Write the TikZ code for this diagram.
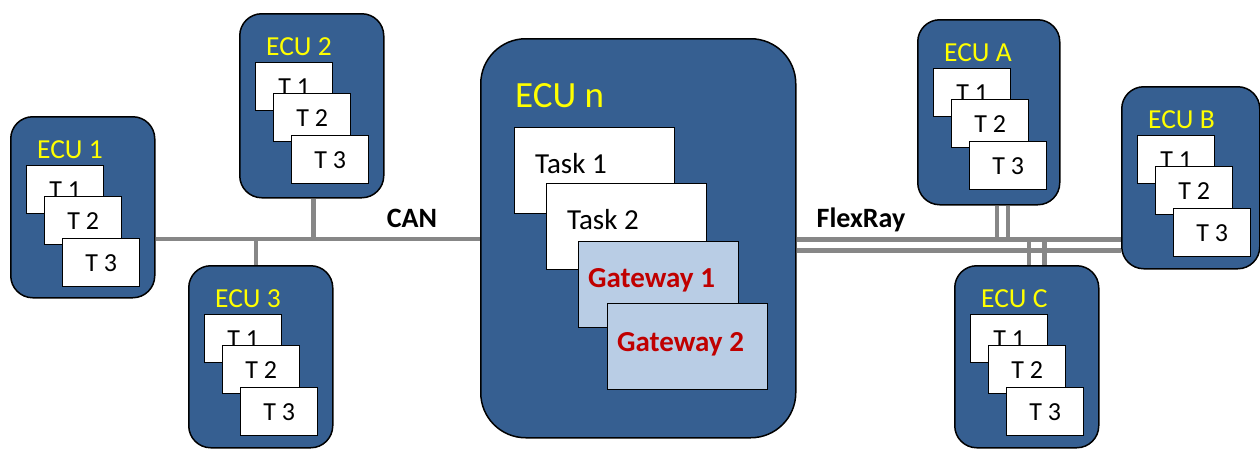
\documentclass[tikz,border=0pt]{standalone}
\usepackage{fontspec}
\setmainfont{Carlito}
\usetikzlibrary{calc}

\definecolor{ecublue}{RGB}{54,95,145}
\definecolor{gwblue}{RGB}{185,205,229}
\definecolor{gwred}{RGB}{192,0,0}
\definecolor{busgray}{RGB}{135,135,135}
\definecolor{lblyellow}{RGB}{255,255,0}

\tikzset{
  ecu/.style={draw=black, line width=1.5pt, fill=ecublue, rounded corners=22pt,
              minimum width=144pt, inner sep=0pt, anchor=north west},
  bigecu/.style={draw=black, line width=1.5pt, fill=ecublue, rounded corners=45pt,
              minimum width=315pt, minimum height=399pt, inner sep=0pt, anchor=north west},
  eculabel/.style={text=lblyellow, font=\fontsize{27.5}{32}\selectfont, inner sep=0pt, anchor=base west},
  tbox/.style={draw=black, line width=1.3pt, fill=white, minimum width=77pt,
               minimum height=48pt, inner sep=0pt, anchor=north west,
               font=\fontsize{26}{30}\selectfont},
  taskbox/.style={draw=black, line width=1.3pt, fill=white, minimum width=160pt,
               minimum height=86pt, inner sep=0pt, anchor=north west},
  gwbox/.style={taskbox, fill=gwblue},
  tasktext/.style={font=\fontsize{29}{33}\selectfont, inner sep=0pt, anchor=base west},
  gwtext/.style={font=\fontsize{29}{33}\selectfont\bfseries, text=gwred, inner sep=0pt, anchor=base west},
  buslabel/.style={font=\fontsize{28}{32}\selectfont\bfseries, inner sep=0pt, anchor=base},
  bus/.style={draw=busgray, line width=4.3pt},
}

% small ECU with three stacked tasks: #1 name, #2 x, #3 y, #4 label, #5 height, #6 width
\newcommand\smallecu[6]{%
  \node[ecu, minimum height=#5, minimum width=#6] (#1) at (#2,#3) {};
  \node[eculabel] (#1-lbl) at ($(#1.north west)+(27,42)$) {#4};
  \node[tbox] (#1-t1) at ($(#1.north west)+(16,49)$) {T 1};
  \node[tbox] (#1-t2) at ($(#1.north west)+(34,80)$) {T 2};
  \node[tbox] (#1-t3) at ($(#1.north west)+(52,122)$) {T 3};
}

\begin{document}
\begin{tikzpicture}[x=1pt, y=-1pt]
\useasboundingbox (0,0) rectangle (1260,448);

% ECUs on the CAN side
\smallecu{e1}{10}{116}{ECU 1}{181pt}{144pt}
\smallecu{e2}{239}{13}{ECU 2}{184pt}{144pt}
\smallecu{e3}{188}{265}{ECU 3}{182pt}{144pt}

% gateway ECU
\node[bigecu] (en) at (480,38) {};
\node[eculabel, font=\fontsize{37}{42}\selectfont] (en-lbl) at ($(en.north west)+(35,69)$) {ECU n};
\node[taskbox] (task1) at (514,127) {};
\node[tasktext] (task1-txt) at ($(task1.north west)+(21,46)$) {Task 1};
\node[taskbox] (task2) at (546,183) {};
\node[tasktext] (task2-txt) at ($(task2.north west)+(21,46)$) {Task 2};
\node[gwbox] (gw1) at (578,241) {};
\node[gwtext] (gw1-txt) at ($(gw1.north west)+(10,46)$) {Gateway 1};
\node[gwbox] (gw2) at (607,303) {};
\node[gwtext] (gw2-txt) at ($(gw2.north west)+(10,48)$) {Gateway 2};

% ECUs on the FlexRay side
\smallecu{eA}{917}{19}{ECU A}{185pt}{142pt}
\smallecu{eB}{1121}{86}{ECU B}{182pt}{138pt}
\smallecu{eC}{954}{265}{ECU C}{182pt}{144pt}

% CAN bus
\coordinate (can-w) at (e1.east |- 0,239);
\coordinate (can-e) at (en.west |- 0,239);
\coordinate (can-t2) at (313.5,239);
\coordinate (can-t3) at (256,239);
\draw[bus] (can-w) -- (can-e);
\draw[bus] (e2.south -| can-t2) -- (can-t2);
\draw[bus] (can-t3) -- (e3.north -| can-t3);
\node[buslabel] (can-lbl) at (412,227) {CAN};

% FlexRay (two channels)
\coordinate (fa-w) at (en.east |- 0,239.5);
\coordinate (fa-e) at (eB.west |- 0,239.5);
\coordinate (fb-w) at (en.east |- 0,250.5);
\coordinate (fb-e) at (eB.west |- 0,250.5);
\draw[bus] (fa-w) -- (fa-e);
\draw[bus] (fb-w) -- (fb-e);
\coordinate (fa-A1) at (997,239.5);
\coordinate (fa-A2) at (1008,239.5);
\draw[bus] (eA.south -| fa-A1) -- (fa-A1);
\draw[bus] (eA.south -| fa-A2) -- (fa-A2);
\coordinate (fa-C1) at (1029,241.5);
\coordinate (fa-C2) at (1044.5,241.5);
\draw[bus] (fa-C1) -- (eC.north -| fa-C1);
\draw[bus] (fa-C2) -- (eC.north -| fa-C2);
\node[buslabel] (fr-lbl) at (861,227) {FlexRay};
\end{tikzpicture}
\end{document}
